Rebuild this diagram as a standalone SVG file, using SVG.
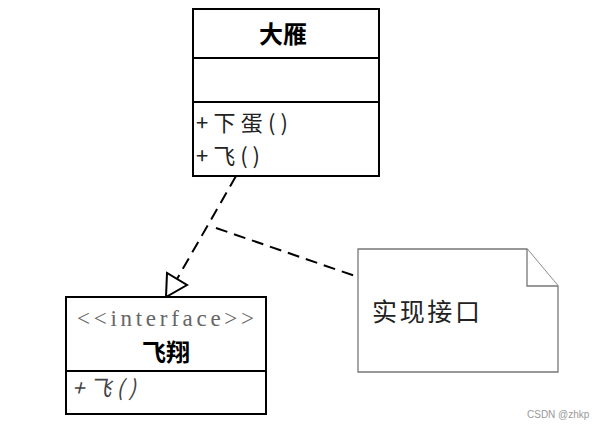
<svg xmlns="http://www.w3.org/2000/svg" width="599" height="430" viewBox="0 0 599 430">
<style>
.box{fill:#fff;stroke:#000;stroke-width:2}
.div{stroke:#000;stroke-width:2}
.ser{font-family:"Liberation Serif","Noto Sans CJK SC",serif;font-size:23px;fill:#666}
.cj{font-family:"Noto Sans CJK SC",sans-serif;font-size:22px;fill:#222}
.b{font-weight:bold;fill:#000}
.dash{fill:none;stroke:#000;stroke-width:2;stroke-dasharray:12,7}
.note{fill:#fff;stroke:#777;stroke-width:1.3}
</style>
<rect width="599" height="430" fill="#fff"/>
<g id="connectors">
<line class="dash" x1="236" y1="176" x2="177" y2="279"/>
<line class="dash" x1="216" y1="228" x2="358" y2="277"/>
<polygon points="166,297 167,273 187,285" fill="#fff" stroke="#000" stroke-width="2"/>
</g>
<g id="dayan">
<rect class="box" x="193" y="9" width="186" height="167"/>
<line class="div" x1="193" y1="58" x2="379" y2="58"/>
<line class="div" x1="193" y1="102" x2="379" y2="102"/>
<text class="cj b" x="283" y="43" text-anchor="middle" style="font-size:24px">大雁</text>
<text class="cj" x="196" y="131" textLength="92" lengthAdjust="spacing">+下蛋()</text>
<text class="cj" x="196" y="164" textLength="64" lengthAdjust="spacing">+飞()</text>
</g>
<g id="feixiang">
<rect class="box" x="66" y="297" width="200" height="117"/>
<line class="div" x1="66" y1="371" x2="266" y2="371"/>
<text class="ser" x="77" y="326" textLength="177" lengthAdjust="spacing">&lt;&lt;interface&gt;&gt;</text>
<text class="cj b" x="166" y="361" text-anchor="middle" style="font-size:24px">飞翔</text>
<text class="cj" x="72" y="396" textLength="64" lengthAdjust="spacing" style="font-style:italic;fill:#444">+飞()</text>
</g>
<g id="note">
<path class="note" d="M358,249 H527 L558,286 V372 H358 Z"/>
<path class="note" d="M527,249 V286 H558" fill="none"/>
<text class="cj" x="372" y="321" style="font-size:25px" textLength="108" lengthAdjust="spacing">实现接口</text>
</g>
<text x="527" y="418" font-family="Liberation Sans,sans-serif" font-size="10" fill="#999">CSDN @zhkp</text>
</svg>
